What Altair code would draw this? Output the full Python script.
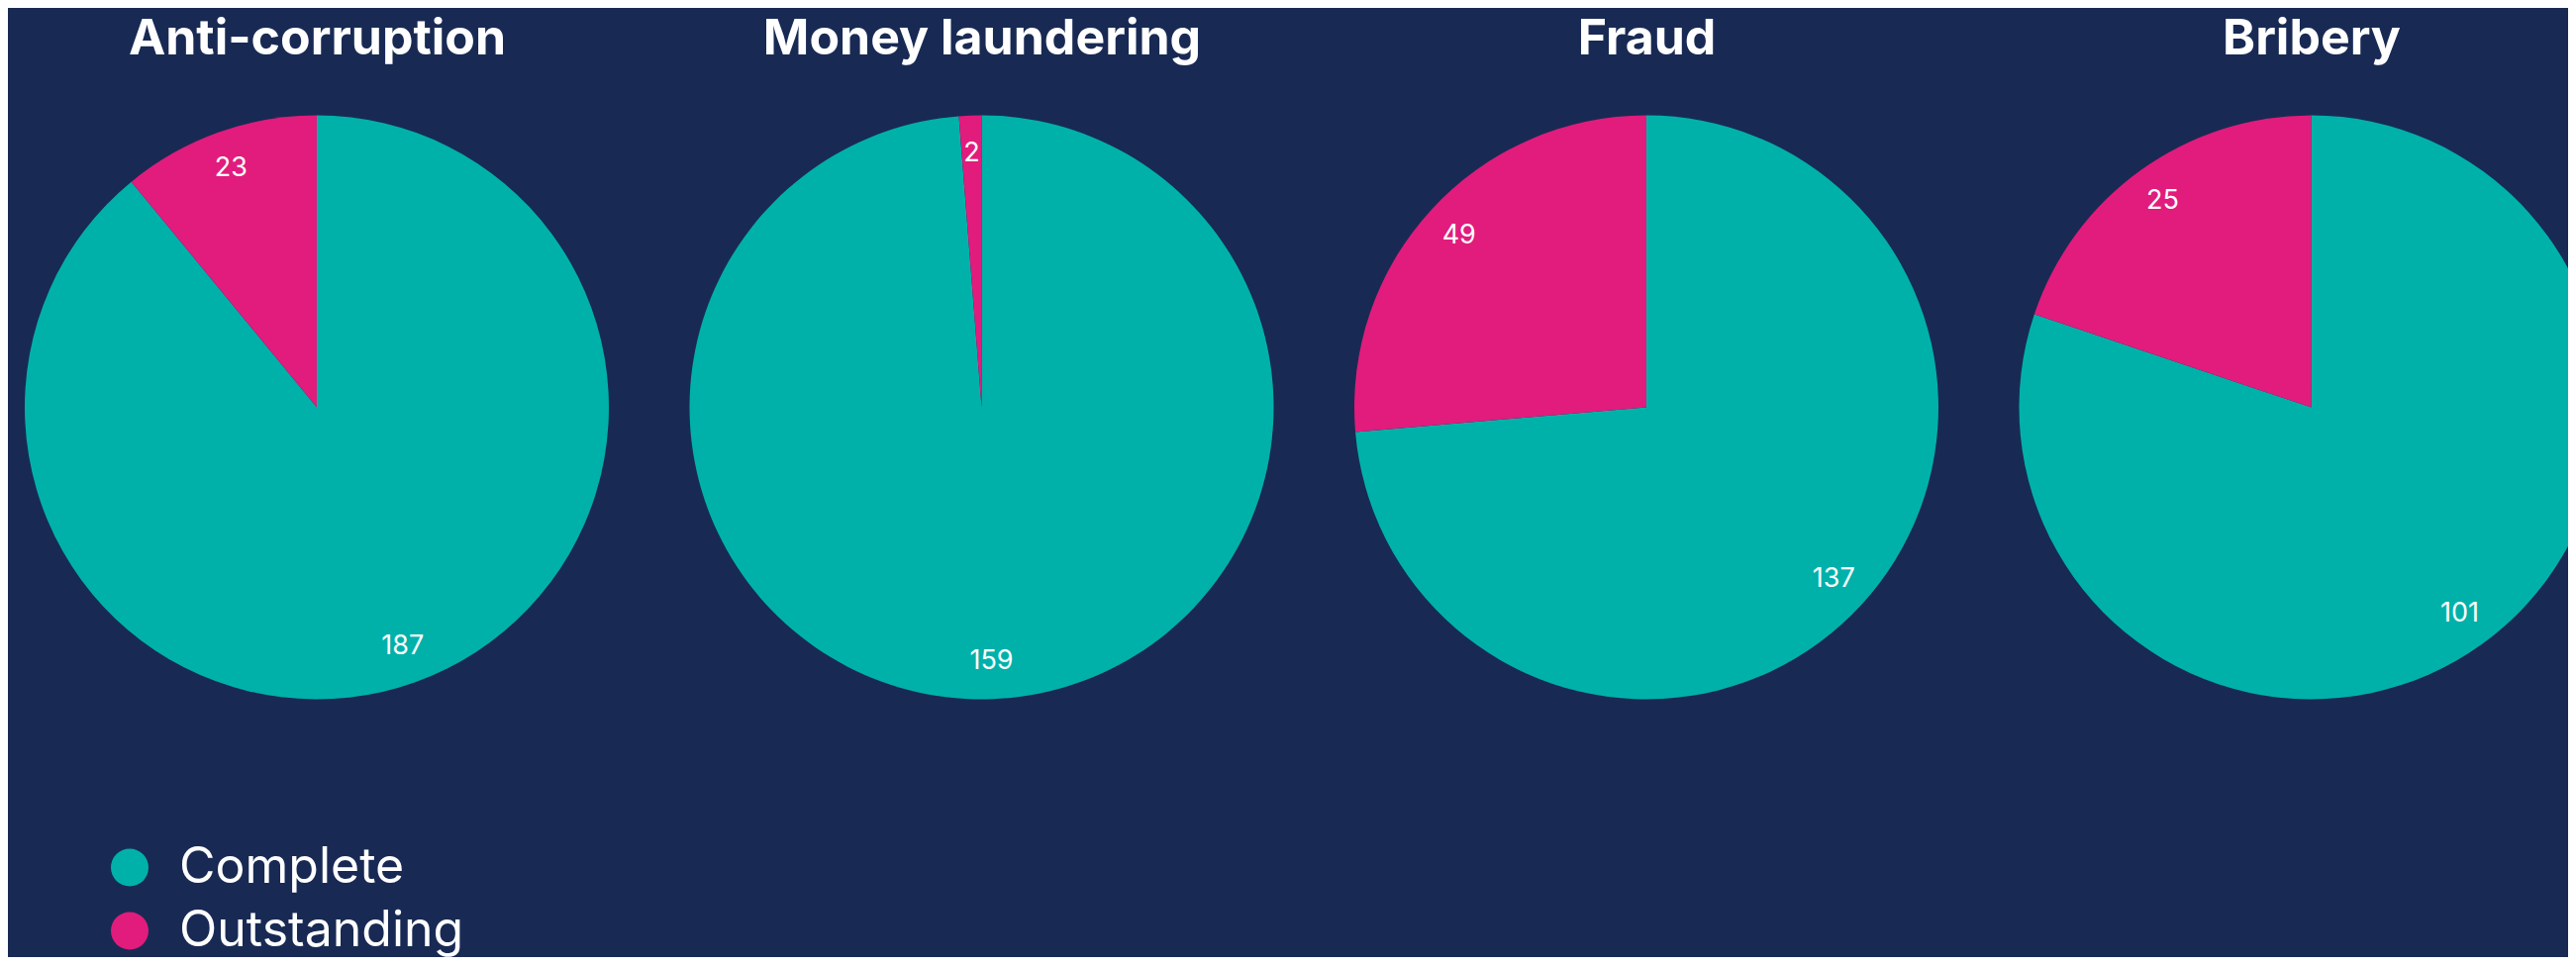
import altair as alt
import pandas as pd
import math

categories = ["Anti-corruption", "Money laundering", "Fraud", "Bribery"]
statuses = ["Complete", "Outstanding"]
complete = [187, 159, 137, 101]
outstanding = [23, 2, 49, 25]
colors = ["#00B1AA", "#E11C7C"]

rows = []
for c, v1, v2 in zip(categories, complete, outstanding):
    rows.append({"category": c, "status": "Complete", "order": 0, "count": v1})
    rows.append({"category": c, "status": "Outstanding", "order": 1, "count": v2})
df = pd.DataFrame(rows)

base = (
    alt.Chart(df)
    .transform_joinaggregate(total="sum(count)", groupby=["category"])
    .transform_window(
        cum="sum(count)",
        sort=[alt.SortField("order")],
        groupby=["category"],
        frame=[None, 0],
    )
    .transform_calculate(
        start="(datum.cum - datum.count) / datum.total",
        end="datum.cum / datum.total",
        mid="(datum.cum - datum.count / 2) / datum.total",
    )
)

theta_scale = alt.Scale(domain=[0, 1], range=[0, 2 * math.pi])

x_enc = alt.X(
    "category:N",
    scale=alt.Scale(type="point", domain=categories, range=[312, 2326.5], padding=0),
    axis=alt.Axis(
        orient="top",
        title=None,
        domain=False,
        ticks=False,
        tickSize=0,
        grid=False,
        labelFont="Inter",
        labelFontSize=50,
        labelFontWeight="bold",
        labelColor="white",
        labelBaseline="alphabetic",
        labelPadding=62,
        labelAngle=0,
        labelLimit=800,
    ),
)

arc = base.mark_arc(outerRadius=295, strokeWidth=0).encode(
    x=x_enc,
    theta=alt.Theta("start:Q", scale=theta_scale),
    theta2="end:Q",
    color=alt.Color(
        "status:N",
        scale=alt.Scale(domain=statuses, range=colors),
        legend=alt.Legend(
            title=None,
            orient="none",
            legendX=98,
            legendY=735,
            direction="vertical",
            symbolType="circle",
            symbolSize=1444,
            symbolStrokeWidth=0,
            labelFontSize=50,
            labelFont="Inter",
            labelColor="white",
            labelOffset=25,
            rowPadding=14,
            labelLimit=600,
        ),
    ),
)

text = base.mark_text(radius=257, fontSize=27, font="Inter", color="white").encode(
    x=x_enc,
    theta=alt.Theta("mid:Q", scale=theta_scale),
    text=alt.Text("count:Q"),
)

chart = (
    alt.layer(arc, text)
    .properties(
        width=2586,
        height=590,
        autosize=alt.AutoSizeParams(type="none"),
        padding={"left": 0, "top": 108.5, "right": 0, "bottom": 260},
    )
    .configure(background="#182A54")
    .configure_view(stroke=None)
)

chart.save("out.html", embed_options={"renderer": "svg", "actions": False})
